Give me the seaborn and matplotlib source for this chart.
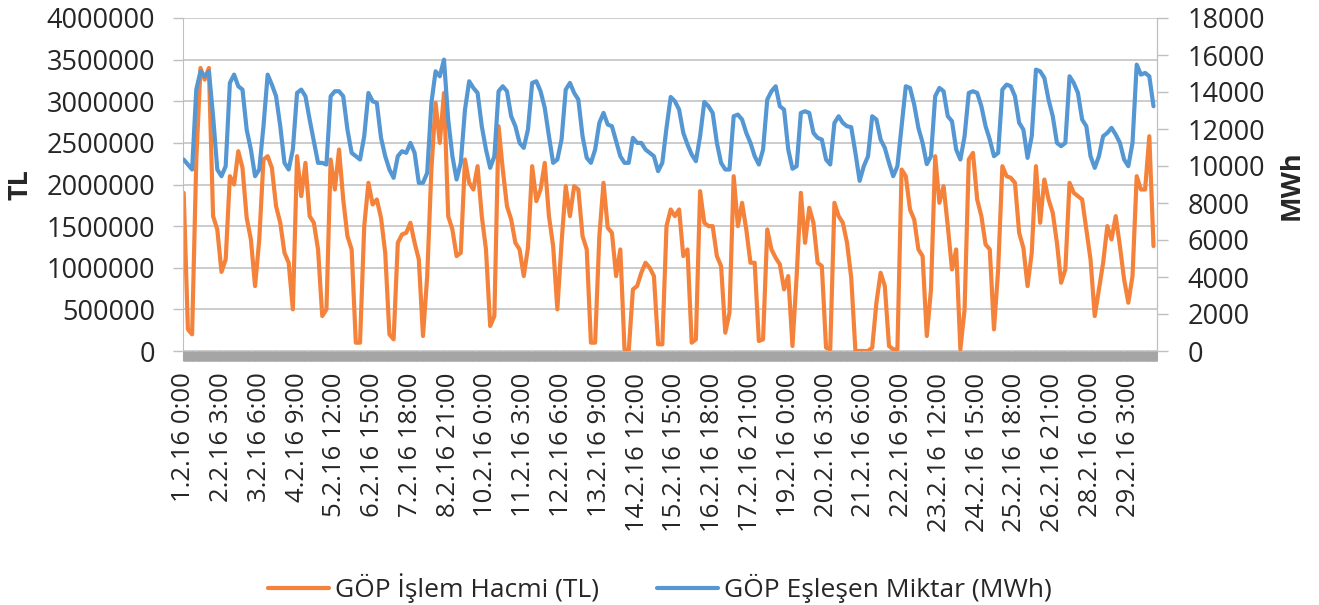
import pandas as pd
import numpy as np
import matplotlib
matplotlib.use('Agg')
import matplotlib.pyplot as plt
import seaborn as sns

# GÖP (intraday market) hourly data, February 2016, read every 3 hours

# TL, 8 readings per day (0,3,6,...,21h)
islem_hacmi = [
    1900000, 260000, 200000, 2300000, 3400000, 3260000, 3400000, 1620000,   # 1.2
    1460000, 950000, 1100000, 2100000, 2000000, 2400000, 2200000, 1600000,  # 2.2
    1340000, 780000, 1340000, 2300000, 2340000, 2200000, 1740000, 1540000,  # 3.2
    1180000, 1060000, 500000, 2340000, 1860000, 2260000, 1620000, 1540000,  # 4.2
    1220000, 420000, 500000, 2300000, 1940000, 2420000, 1820000, 1380000,   # 5.2
    1220000, 100000, 100000, 1500000, 2020000, 1760000, 1820000, 1600000,   # 6.2
    1180000, 200000, 140000, 1300000, 1400000, 1420000, 1540000, 1300000,   # 7.2
    1100000, 180000, 900000, 2180000, 2980000, 2500000, 3100000, 1620000,   # 8.2
    1460000, 1140000, 1180000, 2300000, 2020000, 1940000, 2220000, 1620000, # 9.2
    1220000, 300000, 420000, 2700000, 2180000, 1740000, 1580000, 1300000,   # 10.2
    1220000, 900000, 1240000, 2220000, 1800000, 1940000, 2260000, 1620000,  # 11.2
    1260000, 500000, 1300000, 1980000, 1620000, 1980000, 1940000, 1380000,  # 12.2
    1220000, 100000, 100000, 1380000, 2020000, 1480000, 1420000, 900000,    # 13.2
    1220000, 20000, 0, 740000, 780000, 940000, 1060000, 1000000,            # 14.2
    900000, 80000, 80000, 1500000, 1700000, 1620000, 1700000, 1140000,      # 15.2
    1220000, 100000, 140000, 1920000, 1540000, 1500000, 1500000, 1140000,   # 16.2
    1020000, 220000, 460000, 2100000, 1500000, 1780000, 1460000, 1060000,   # 17.2
    1060000, 120000, 140000, 1460000, 1220000, 1120000, 1040000, 740000,    # 18.2
    900000, 60000, 900000, 1900000, 1300000, 1720000, 1540000, 1060000,     # 19.2
    1020000, 40000, 20000, 1780000, 1620000, 1540000, 1300000, 880000,      # 20.2
    0, 0, 0, 0, 40000, 580000, 940000, 780000,                              # 21.2
    60000, 20000, 20000, 2180000, 2100000, 1700000, 1580000, 1220000,       # 22.2
    1140000, 180000, 740000, 2340000, 1780000, 1980000, 1500000, 980000,    # 23.2
    1220000, 20000, 500000, 2300000, 2380000, 1820000, 1620000, 1280000,    # 24.2
    1220000, 260000, 980000, 2220000, 2100000, 2080000, 2020000, 1420000,   # 25.2
    1240000, 780000, 1180000, 2220000, 1540000, 2060000, 1820000, 1660000,  # 26.2
    1300000, 820000, 980000, 2020000, 1900000, 1860000, 1820000, 1460000,   # 27.2
    1100000, 420000, 740000, 1060000, 1500000, 1340000, 1620000, 1260000,   # 28.2
    860000, 580000, 900000, 2100000, 1940000, 1940000, 2580000, 1260000,    # 29.2
]

# MWh, same hours
eslesen_miktar = [
    10350, 10080, 9810, 14130, 15120, 14850, 15120, 12690,
    9810, 9450, 9990, 14490, 14940, 14310, 14130, 11970,
    10890, 9450, 9810, 12150, 14940, 14400, 13770, 12150,
    10170, 9810, 10890, 13950, 14130, 13770, 12510, 11340,
    10170, 10170, 10080, 13770, 14040, 14040, 13770, 11970,
    10710, 10530, 10350, 11610, 13950, 13500, 13410, 11520,
    10530, 9810, 9360, 10530, 10800, 10710, 11250, 10710,
    9090, 9090, 9630, 13410, 15120, 14850, 15750, 12510,
    10530, 9270, 10170, 13050, 14580, 14220, 13950, 12150,
    10890, 9900, 10530, 14040, 14310, 14040, 12690, 12150,
    11250, 10980, 11970, 14490, 14580, 14040, 13140, 11610,
    10170, 10350, 11430, 14130, 14490, 13950, 13590, 11610,
    10440, 10170, 10890, 12330, 12870, 12240, 12150, 11340,
    10530, 10170, 10170, 11520, 11250, 11250, 10890, 10710,
    10530, 9720, 10170, 12060, 13730, 13500, 13050, 11790,
    11160, 10620, 10260, 11610, 13460, 13230, 12870, 11250,
    10170, 9810, 9810, 12690, 12780, 12510, 11790, 11250,
    10530, 10080, 10890, 13590, 14040, 14310, 13230, 13050,
    10890, 9850, 9990, 12870, 12960, 12870, 11790, 11520,
    11430, 10350, 10080, 12330, 12690, 12330, 12150, 12100,
    10710, 9200, 9990, 10530, 12690, 12510, 11430, 10980,
    10170, 9450, 9990, 12150, 14310, 14220, 13320, 12060,
    11250, 10100, 10530, 13770, 14220, 14040, 12690, 12420,
    10890, 10350, 11610, 13950, 14040, 13950, 13230, 12150,
    11430, 10530, 10710, 14130, 14400, 14310, 13770, 12330,
    11970, 10440, 11610, 15210, 15120, 14760, 13590, 12690,
    11250, 11070, 11250, 14850, 14490, 13950, 12510, 12150,
    10530, 9900, 10530, 11610, 11790, 12060, 11700, 11250,
    10350, 9990, 11250, 15480, 14940, 15030, 14850, 13230,
]

tick_labels = ['1.2.16 0:00', '2.2.16 3:00', '3.2.16 6:00', '4.2.16 9:00',
               '5.2.16 12:00', '6.2.16 15:00', '7.2.16 18:00', '8.2.16 21:00',
               '10.2.16 0:00', '11.2.16 3:00', '12.2.16 6:00', '13.2.16 9:00',
               '14.2.16 12:00', '15.2.16 15:00', '16.2.16 18:00', '17.2.16 21:00',
               '19.2.16 0:00', '20.2.16 3:00', '21.2.16 6:00', '22.2.16 9:00',
               '23.2.16 12:00', '24.2.16 15:00', '25.2.16 18:00', '26.2.16 21:00',
               '28.2.16 0:00', '29.2.16 3:00']

n_hours = 696
saat = np.arange(0, n_hours, 3)
df = pd.DataFrame({'saat': saat, 'TL': islem_hacmi, 'MWh': eslesen_miktar})

sns.set_style('white')
plt.rcParams['font.family'] = ['Open Sans', 'DejaVu Sans']

turuncu = '#F4823A'
mavi = '#5597D3'
gri = '#bfbfbf'

fig = plt.figure(figsize=(13.19, 6.05), dpi=100)
ax = fig.add_axes([183/1319, 1 - 351/605, (1157 - 183)/1319, (351 - 18)/605])

sns.lineplot(x='saat', y='TL', data=df, ax=ax, color=turuncu, linewidth=3.0,
             label='GÖP İşlem Hacmi (TL)', legend=False)
ax2 = ax.twinx()
sns.lineplot(x='saat', y='MWh', data=df, ax=ax2, color=mavi, linewidth=3.0,
             label='GÖP Eşleşen Miktar (MWh)', legend=False)

ax.set_xlim(-0.5, n_hours - 0.5)
ax.set_ylim(0, 4000000)
ax2.set_ylim(0, 18000)

# left axis
yt = np.arange(0, 4000001, 500000)
ax.set_yticks(yt)
ax.set_yticklabels([str(v) for v in yt], fontsize=19.5, color='#262626')
ax.yaxis.grid(True, color=gri, linewidth=1.1)
ax.set_axisbelow(True)
ax.tick_params(axis='y', length=7, width=1, color=gri, pad=13, left=True)

# right axis
yt2 = np.arange(0, 18001, 2000)
ax2.set_yticks(yt2)
ax2.set_yticklabels([str(v) for v in yt2], fontsize=19.5, color='#262626')
ax2.tick_params(axis='y', length=8, width=1, color=gri, pad=14, right=True)
ax2.grid(False)

# x axis: dense hourly ticks form the grey band
ax.set_xticks(np.arange(0, n_hours), minor=True)
ax.set_xticks(np.arange(0, n_hours, 27))
ax.set_xticklabels(tick_labels, rotation=90, fontsize=18.5, color='#262626')
ax.tick_params(axis='x', which='minor', length=7.5, width=2.2, color='#a5a5a5', bottom=True)
ax.tick_params(axis='x', which='major', length=7.5, width=2.2, color='#a5a5a5', pad=8, bottom=True)

for a in (ax, ax2):
    for s in a.spines.values():
        s.set_color(gri)
    a.spines['top'].set_visible(False)
    a.spines['bottom'].set_visible(False)
    a.set_xlabel('')
    a.set_ylabel('')
ax2.spines['left'].set_visible(False)

fig.text(20/1319, 1 - 185/605, 'TL', rotation=90, ha='center', va='center',
         fontsize=19.5, fontweight='bold', color='#262626')
fig.text(1292/1319, 1 - 185/605, 'MWh', rotation=90, ha='center', va='center',
         fontsize=19.5, fontweight='bold', color='#262626')

h1 = ax.get_lines()[0]
h2 = ax2.get_lines()[0]
fig.legend([h1, h2], ['GÖP İşlem Hacmi (TL)', 'GÖP Eşleşen Miktar (MWh)'],
           loc='center', bbox_to_anchor=(660/1319, 1 - 588/605), ncol=2,
           frameon=False, fontsize=19, handlelength=2.3, handletextpad=0.25,
           columnspacing=2.2)

fig.savefig('out.png', dpi=100)
